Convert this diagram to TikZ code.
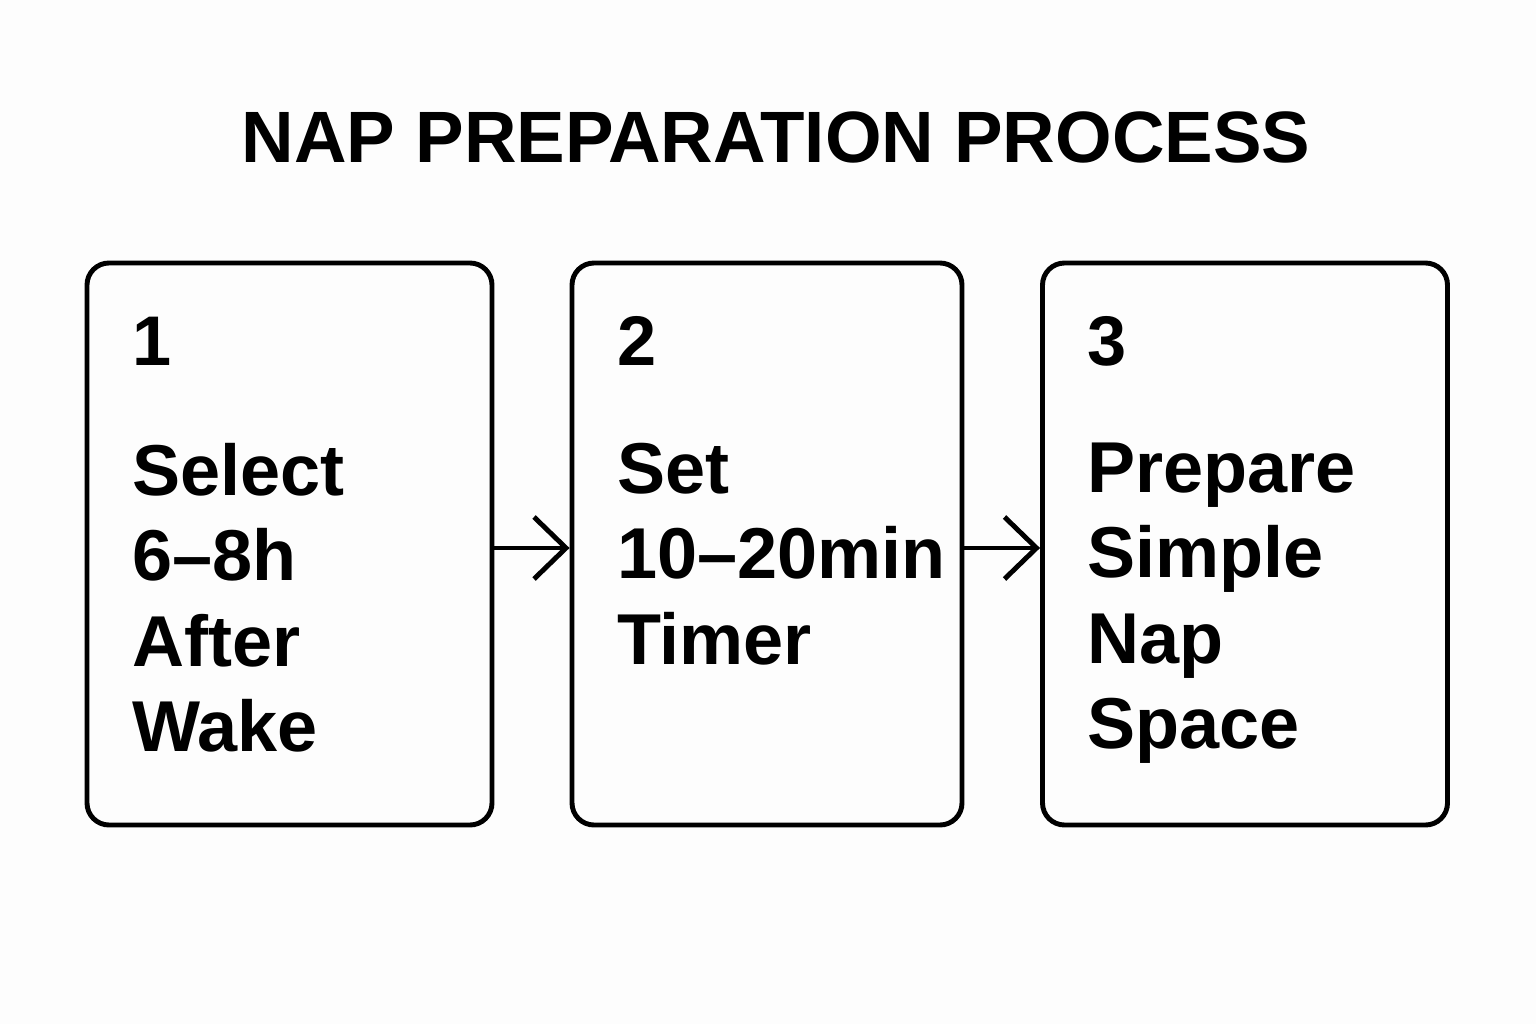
\documentclass[tikz,border=0pt]{standalone}
\usepackage{fontspec}
\setmainfont{Liberation Sans}
\usetikzlibrary{arrows.meta,positioning}

\begin{document}
\begin{tikzpicture}[>={Straight Barb[length=3.2mm,width=6.2mm]},
    line width=1.4pt,
    stepbox/.style={draw,rounded corners=0.22cm,minimum width=4.05cm,minimum height=5.62cm,inner sep=0pt},
    numtext/.style={anchor=base west,inner sep=0pt,font=\fontsize{20}{24}\selectfont\bfseries},
    bodytext/.style={anchor=north west,inner sep=0pt,align=left,font=\fontsize{20.5}{24.3}\selectfont\bfseries}]
    \fill[white!98!black!40] (0,0) rectangle (15.36,10.24);
    \useasboundingbox (0,0) rectangle (15.36,10.24);
    \node[anchor=base,inner sep=0pt,font=\fontsize{20.7}{24}\selectfont\bfseries] (title) at (7.76,8.61) {NAP PREPARATION PROCESS};
    \node[stepbox] (box1) at (2.895,4.80) {};
    \node[stepbox,minimum width=3.90cm] (box2) at (7.67,4.80) {};
    \node[stepbox] (box3) at (12.45,4.80) {};
    \node[numtext] (num1) at ([xshift=0.45cm,yshift=-1.05cm]box1.north west) {1};
    \node[numtext] (num2) at ([xshift=0.45cm,yshift=-1.05cm]box2.north west) {2};
    \node[numtext] (num3) at ([xshift=0.45cm,yshift=-1.05cm]box3.north west) {3};
    \node[bodytext] (txt1) at ([xshift=0.45cm,yshift=-1.80cm]box1.north west) {Select\\6–8h\\After\\Wake};
    \node[bodytext] (txt2) at ([xshift=0.45cm,yshift=-1.80cm]box2.north west) {Set\\10–20min\\Timer};
    \node[bodytext] (txt3) at ([xshift=0.45cm,yshift=-1.80cm]box3.north west) {Prepare\\Simple\\Nap\\Space};
    \draw[->] ([yshift=-0.04cm]box1.east) -- ([yshift=-0.04cm]box2.west);
    \draw[->] ([yshift=-0.04cm]box2.east) -- ([yshift=-0.04cm]box3.west);
\end{tikzpicture}
\end{document}
